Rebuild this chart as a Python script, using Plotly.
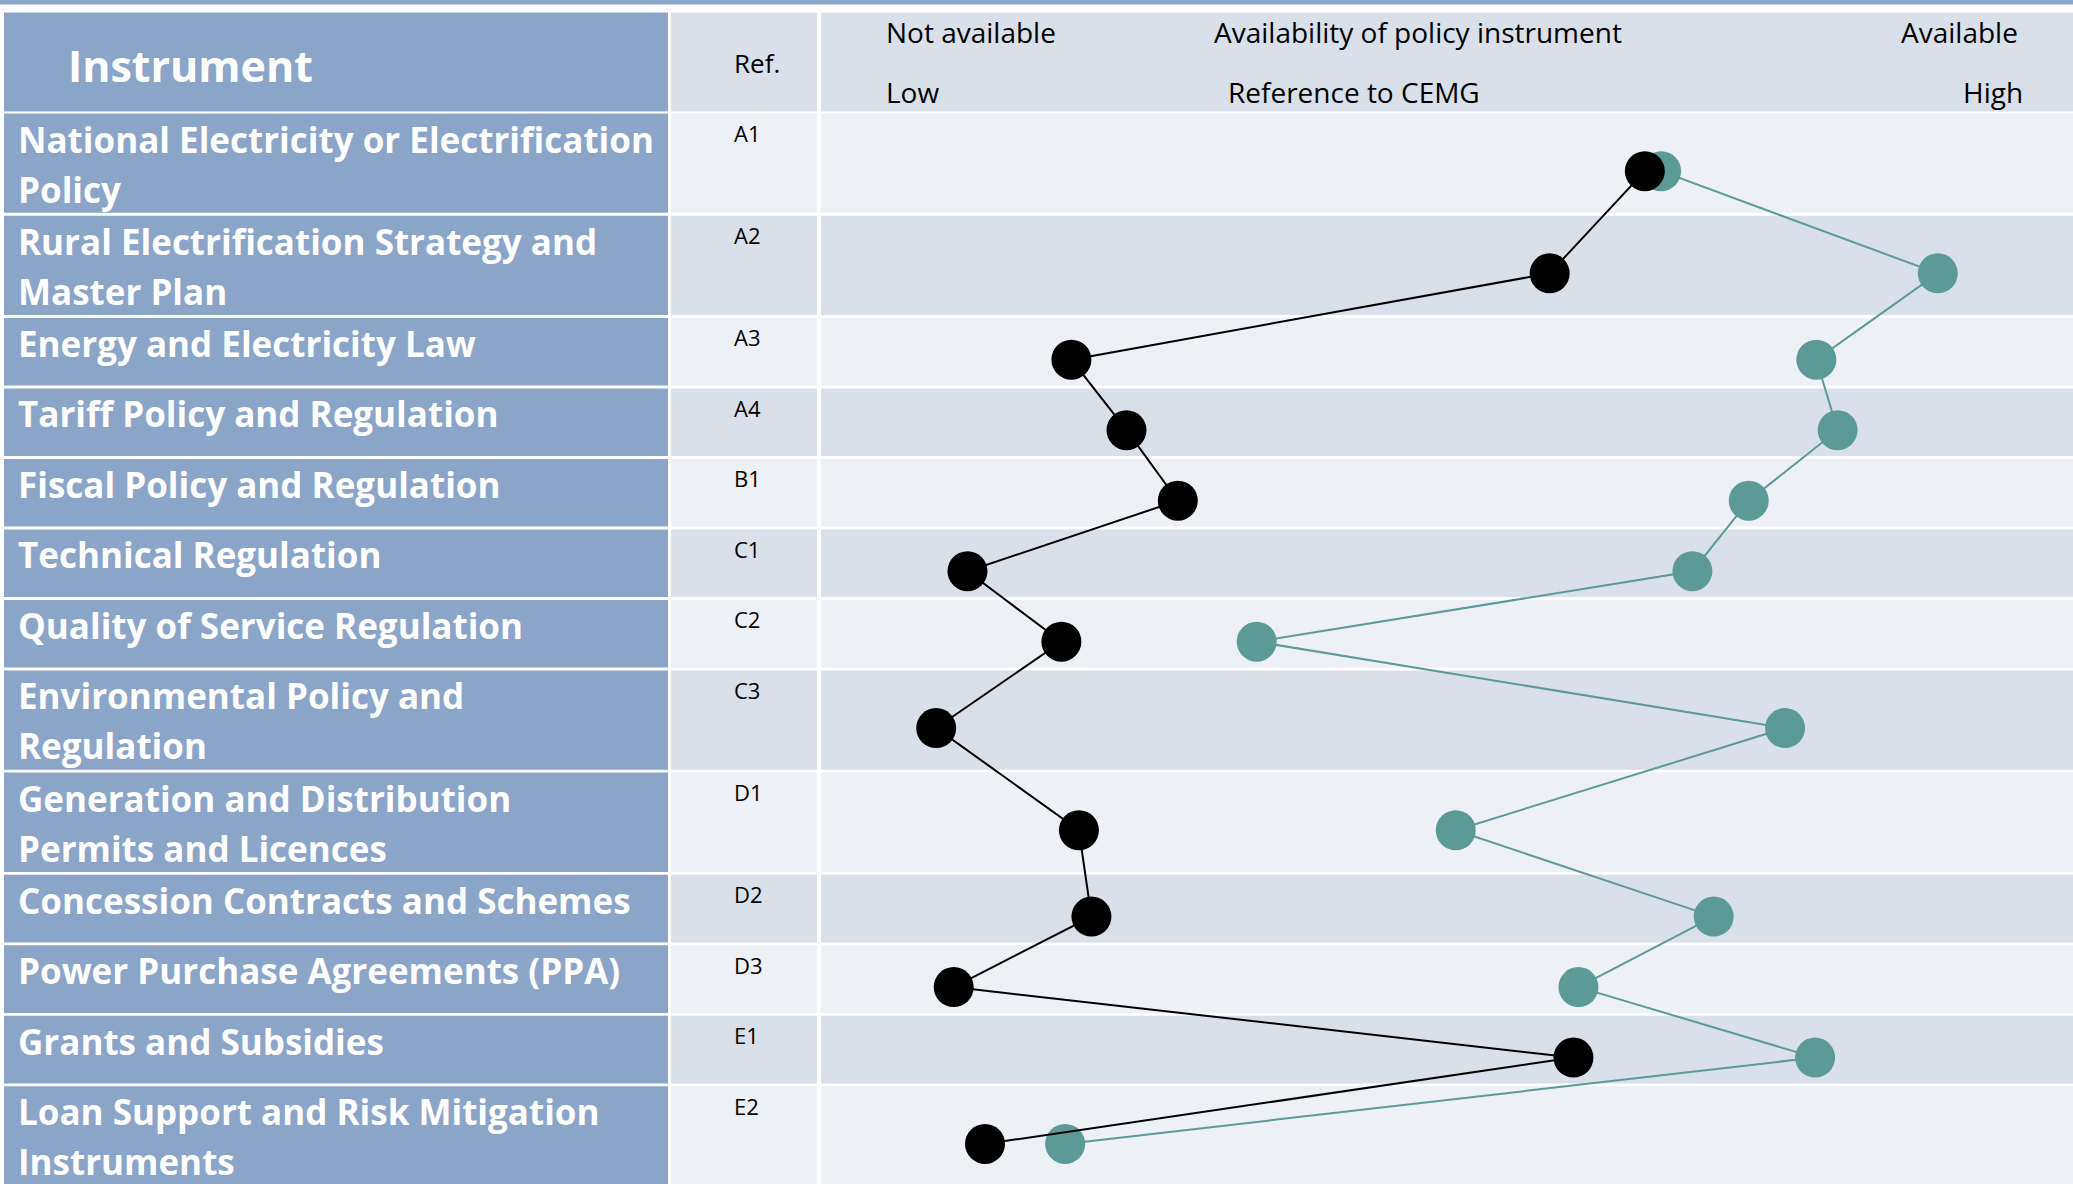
import plotly.graph_objects as go

# ---------------- data ----------------
instruments = [
    "National Electricity or Electrification\nPolicy",
    "Rural Electrification Strategy and\nMaster Plan",
    "Energy and Electricity Law",
    "Tariff Policy and Regulation",
    "Fiscal Policy and Regulation",
    "Technical Regulation",
    "Quality of Service Regulation",
    "Environmental Policy and\nRegulation",
    "Generation and Distribution\nPermits and Licences",
    "Concession Contracts and Schemes",
    "Power Purchase Agreements (PPA)",
    "Grants and Subsidies",
    "Loan Support and Risk Mitigation\nInstruments",
]
refs = ["A1", "A2", "A3", "A4", "B1", "C1", "C2", "C3", "D1", "D2", "D3", "E1", "E2"]

# availability score (0 = low / not available, 100 = high / available)
availability = [65.8, 58.2, 20.0, 24.4, 28.5, 11.7, 19.2, 9.2, 20.6, 21.6, 10.6, 60.1, 13.1]
# reference to CEMG
cemg_reference = [67.1, 89.2, 79.5, 81.2, 74.1, 69.6, 34.8, 77.0, 50.7, 71.3, 60.5, 79.4, 19.5]

header_left = "Instrument"
header_ref = "Ref."
scale_top = ["Not available", "Availability of policy instrument", "Available"]
scale_bottom = ["Low", "Reference to CEMG", "High"]

# ---------------- layout constants ----------------
W, H = 2073, 1184
BLUE = "#8AA5C8"
BAND_DARK = "#DAE0EA"
BAND_LIGHT = "#EDF0F5"
TEAL = "#5C9A98"
FONT = "Open Sans"

COL_L = (4, 668)
COL_R = (671, 817)
COL_C = (821, W)
HEAD_TOP, HEAD_BOT = 12.5, 111.5
ROW_START = 113.5
H1, H2, GAP = 67.6, 99.3, 2.9
MARK_DROP = 8

lines_per_row = [len(s.split("\n")) for s in instruments]
row_tops, row_bots = [], []
y = ROW_START
for n in lines_per_row:
    h = H1 if n == 1 else H2
    row_tops.append(y)
    row_bots.append(y + h)
    y += h + GAP
row_centers = [(a + b) / 2 + MARK_DROP for a, b in zip(row_tops, row_bots)]

def px(xp):
    return xp / W

shapes = []
def rect(x0, x1, y0, y1, color):
    shapes.append(dict(type="rect", xref="paper", yref="y", x0=px(x0), x1=px(x1),
                       y0=y0, y1=y1, fillcolor=color, line=dict(width=0), layer="below"))

# top strip
rect(0, W, 0, 4.5, BLUE)
# header row
rect(*COL_L, HEAD_TOP, HEAD_BOT, BLUE)
rect(*COL_R, HEAD_TOP, HEAD_BOT, BAND_DARK)
rect(*COL_C, HEAD_TOP, HEAD_BOT, BAND_DARK)
for i, (t, b) in enumerate(zip(row_tops, row_bots)):
    band = BAND_LIGHT if i % 2 == 0 else BAND_DARK
    rect(*COL_L, t, b, BLUE)
    rect(*COL_R, t, b, band)
    rect(*COL_C, t, b, band)

annotations = []
def text(x, yc, s, size, color="black", bold=False, anchor="left"):
    annotations.append(dict(
        xref="paper", yref="y", x=px(x), y=yc, text=s, showarrow=False,
        xanchor=anchor, yanchor="middle",
        font=dict(family=FONT, size=size, color=color, weight=700 if bold else 400),
    ))

# header texts
text(66, 65, header_left, 43, "white", True)
text(757, 63, header_ref, 26, anchor="center")
text(884, 32, scale_top[0], 28)
text(1418, 32, scale_top[1], 28, anchor="center")
text(2020, 32, scale_top[2], 28, anchor="right")
text(884, 92, scale_bottom[0], 28)
text(1354, 92, scale_bottom[1], 28, anchor="center")
text(2025, 92, scale_bottom[2], 28, anchor="right")

# row texts
for name, ref, t in zip(instruments, refs, row_tops):
    for k, line in enumerate(name.split("\n")):
        text(16, t + 25.5 + 50 * k, line, 35, "white", True)
    text(732, t + 19.5, ref, 22)

fig = go.Figure()
fig.add_trace(go.Scatter(
    x=cemg_reference, y=row_centers, mode="lines+markers", name="Reference to CEMG",
    line=dict(color=TEAL, width=2), marker=dict(color=TEAL, size=40, line=dict(width=0)),
    hoverinfo="skip",
))
fig.add_trace(go.Scatter(
    x=availability, y=row_centers, mode="lines+markers", name="Availability",
    line=dict(color="black", width=2), marker=dict(color="black", size=40, line=dict(width=0)),
    hoverinfo="skip",
))

fig.update_layout(
    width=W, height=H, margin=dict(l=0, r=0, t=0, b=0),
    paper_bgcolor="white", plot_bgcolor="rgba(0,0,0,0)",
    showlegend=False, shapes=shapes, annotations=annotations,
    xaxis=dict(domain=[px(COL_C[0]), 1], range=[0, 100], visible=False, fixedrange=True),
    yaxis=dict(domain=[0, 1], range=[H, 0], visible=False, fixedrange=True),
)
fig.write_html("out.html", config={"displayModeBar": False})
